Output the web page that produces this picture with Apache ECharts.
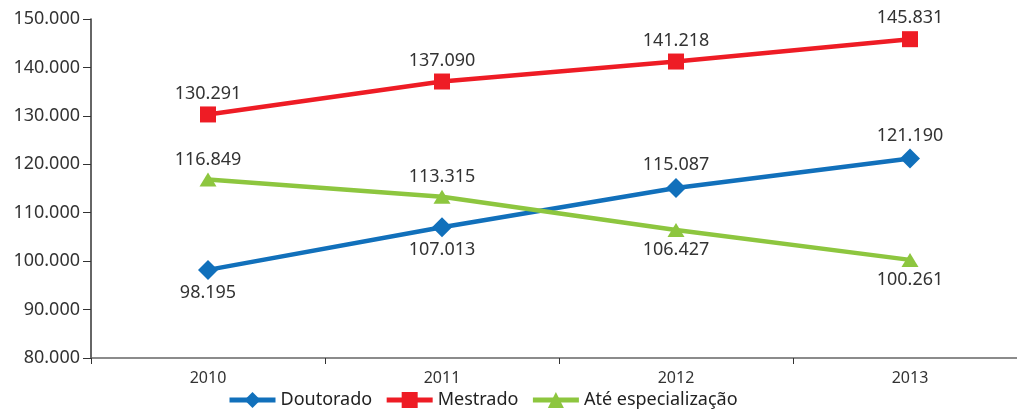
<!DOCTYPE html>
<html>
<head>
<meta charset="utf-8">
<script src="https://cdn.jsdelivr.net/npm/echarts@6/dist/echarts.min.js"></script>
<style>
  html, body { margin: 0; padding: 0; background: #fff; }
  #chart { width: 1017px; height: 412px; }
</style>
</head>
<body>
<div id="chart"></div>
<script>
const years = ['2010', '2011', '2012', '2013'];
const doutorado = [98195, 107013, 115087, 121190];
const mestrado = [130291, 137090, 141218, 145831];
const especializacao = [116849, 113315, 106427, 100261];
const doutoradoLabelPos = ['bottom', 'bottom', 'top', 'top'];
const especializacaoLabelPos = ['top', 'top', 'bottom', 'bottom'];

const fmt = (v) => String(Math.round(v)).replace(/\B(?=(\d{3})+(?!\d))/g, '.');
const font = '"Noto Sans", "Open Sans", sans-serif';
const labelStyle = { show: true, fontSize: 18, color: '#333', fontFamily: font, distance: 4, formatter: (p) => fmt(p.value) };

const withPos = (values, positions) => values.map((v, i) => ({ value: v, label: { position: positions[i] } }));

const chart = echarts.init(document.getElementById('chart'));
chart.setOption({
  animation: false,
  grid: { left: 91, right: -10, top: 19, bottom: 54, outerBoundsMode: 'none', containLabel: false },
  legend: {
    bottom: -2,
    left: 222,
    itemWidth: 46,
    itemHeight: 20,
    itemGap: 12,
    lineStyle: { width: 5 },
    textStyle: { fontSize: 18, color: '#222', fontFamily: font },
    data: ['Doutorado', 'Mestrado', 'Até especialização']
  },
  xAxis: {
    type: 'category',
    data: years,
    boundaryGap: true,
    axisLine: { lineStyle: { color: '#666', width: 1.5 } },
    axisTick: { show: true, length: 6, lineStyle: { color: '#333' } },
    axisLabel: { fontSize: 16, color: '#333', fontFamily: font, margin: 12 }
  },
  yAxis: {
    type: 'value',
    min: 80000,
    max: 150000,
    interval: 10000,
    axisLine: { show: true, lineStyle: { color: '#333', width: 1.5 } },
    axisTick: { show: true, length: 8, lineStyle: { color: '#333' } },
    splitLine: { show: false },
    axisLabel: { fontSize: 18, color: '#333', fontFamily: font, margin: 11, formatter: fmt }
  },
  series: [
    {
      name: 'Doutorado',
      type: 'line',
      data: withPos(doutorado, doutoradoLabelPos),
      symbol: 'diamond',
      symbolSize: 20,
      itemStyle: { color: '#1170BB' },
      lineStyle: { color: '#1170BB', width: 4.5 },
      label: labelStyle
    },
    {
      name: 'Mestrado',
      type: 'line',
      data: mestrado,
      symbol: 'rect',
      symbolSize: 16,
      itemStyle: { color: '#EE1C25' },
      lineStyle: { color: '#EE1C25', width: 4.5 },
      label: Object.assign({}, labelStyle, { position: 'top' })
    },
    {
      name: 'Até especialização',
      type: 'line',
      data: withPos(especializacao, especializacaoLabelPos),
      symbol: 'triangle',
      symbolSize: [17, 14],
      itemStyle: { color: '#8DC63F' },
      lineStyle: { color: '#8DC63F', width: 4.5 },
      label: labelStyle
    }
  ]
});
</script>
</body>
</html>
